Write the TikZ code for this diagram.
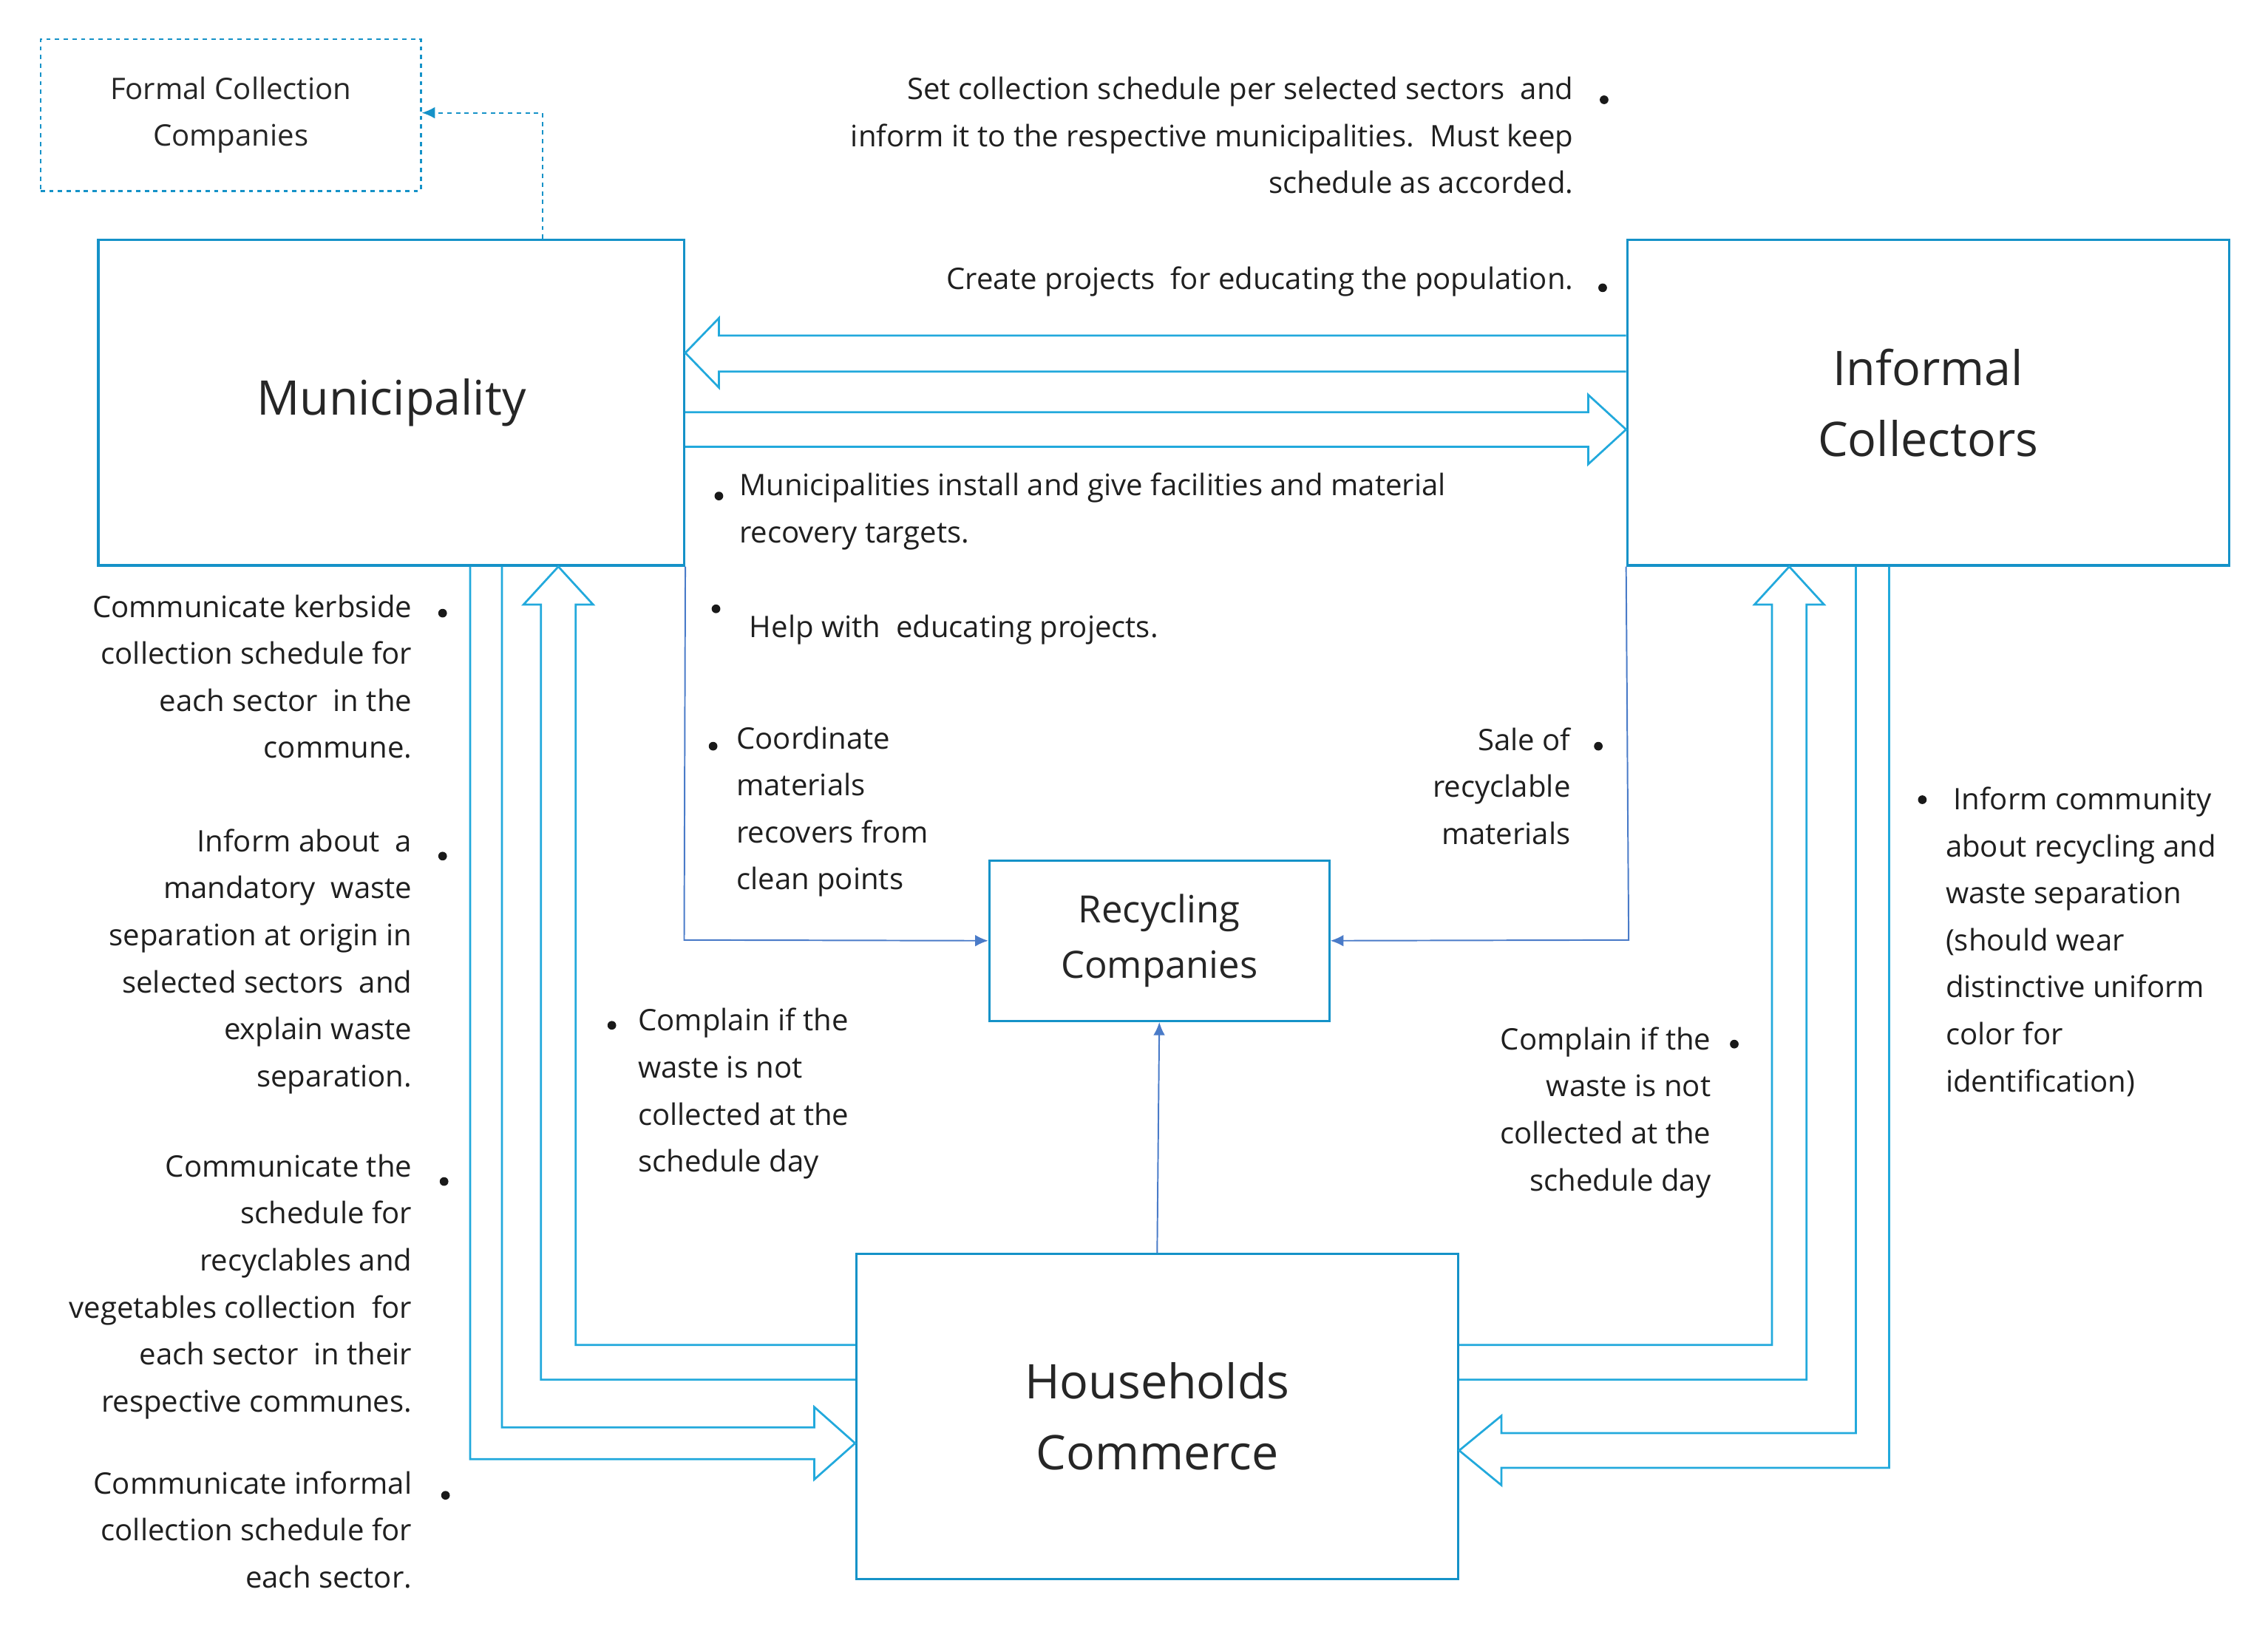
\documentclass[tikz,border=0pt]{standalone}
\usepackage{fontspec}
\setmainfont{Open Sans}
\usetikzlibrary{arrows.meta}
\definecolor{boxc}{HTML}{1592C8}
\definecolor{arrc}{HTML}{22A9DC}
\definecolor{thin}{HTML}{4A7BC8}
\begin{document}
\begin{tikzpicture}[x=1pt,y=-1pt,
  box/.style={draw=boxc,line width=1.6pt,inner sep=0pt,align=center,text=black!85},
  hol/.style={draw=arrc,line width=1.4pt,line join=miter},
  thn/.style={draw=thin,line width=1pt,-{Latex[length=9pt,width=8pt]}},
  txt/.style={font=\fontsize{20.5}{32.5}\selectfont,inner sep=0pt,text=black!88},
  bul/.style={circle,fill=black!90,inner sep=0pt,minimum size=6pt}]
\useasboundingbox (0,0) rectangle (1568,1124);
% boxes
\node[box,minimum width=405pt,minimum height=225pt,font=\fontsize{33}{46}\selectfont] (mun) at (270.5,278.5) {Municipality};
\node[box,minimum width=416pt,minimum height=225pt,font=\fontsize{33}{49}\selectfont] (inf) at (1333,278.5) {Informal\\Collectors};
\node[box,minimum width=235pt,minimum height=111pt,font=\fontsize{26}{38}\selectfont] (rec) at (801.5,650.5) {Recycling\\Companies};
\node[box,minimum width=416pt,minimum height=225pt,font=\fontsize{33}{49}\selectfont] (hh) at (800,979.5) {Households\\Commerce};
\node[box,dashed,line width=1.3pt,minimum width=263pt,minimum height=105pt,font=\fontsize{20.5}{32.5}\selectfont] (fcc) at (159.5,79.5) {Formal Collection\\Companies};
% dashed connector
\coordinate (dk) at (375,78);
\draw[boxc,dashed,line width=1pt,-{Latex[length=9pt,width=8pt]}] (mun.north -| 375,0) -- (dk) -- (fcc.east |- dk);
% hollow arrows top
\draw[hol] (inf.west |- 0,232) -- (497,232) -- (497,220) -- (mun.east |- 0,244) -- (497,268) -- (497,257) -- (inf.west |- 0,257);
\draw[hol] (mun.east |- 0,285) -- (1098,285) -- (1098,273) -- (inf.west |- 0,297) -- (1098,321) -- (1098,309) -- (mun.east |- 0,309);
% left: municipality -> households
\draw[hol] (mun.south -| 325,0) -- (325,1009) -- (563,1009) -- (563,1023) -- (hh.west |- 0,998) -- (563,973) -- (563,987) -- (347,987) -- (mun.south -| 347,0);
% left: households -> municipality
\draw[hol] (hh.west |- 0,954) -- (374,954) -- (374,418) -- (362,418) -- (mun.south -| 386,0) -- (410,418) -- (398,418) -- (398,930) -- (hh.west |- 0,930);
% right: households -> informal
\draw[hol] (hh.east |- 0,930) -- (1225,930) -- (1225,418) -- (1213,418) -- (inf.south -| 1237,0) -- (1261,418) -- (1249,418) -- (1249,954) -- (hh.east |- 0,954);
% right: informal -> households
\draw[hol] (inf.south -| 1306,0) -- (1306,1015) -- (1038,1015) -- (1038,1027) -- (hh.east |- 0,1003) -- (1038,979) -- (1038,991) -- (1283,991) -- (inf.south -| 1283,0);
% thin connectors
\coordinate (c1) at (473,650);
\coordinate (c2) at (1126,650);
\draw[thn] (mun.south east) -- (c1) -- (rec.west);
\draw[thn] (inf.south west) -- (c2) -- (rec.east);
\draw[thn] (hh.north) -- (rec.south);
% texts top right
\node[txt,anchor=north east,align=right] (t1) at (1088,53) {Set collection schedule per selected sectors\ \ and\\inform it to the respective municipalities.\ \ Must keep\\schedule as accorded.};
\node[bul] (b1) at (1109,69) {};
\node[txt,anchor=north east,align=right] (t2) at (1088,184) {Create projects\ \ for educating the population.};
\node[bul] (b2) at (1108,199) {};
% middle
\node[bul] (b3) at (497,343) {};
\node[txt,anchor=north west,align=left] (t3) at (511,327) {Municipalities install and give facilities and material\\recovery targets.};
\node[bul] (b4) at (495,421) {};
\node[txt,anchor=north west,align=left] (t4) at (518,425) {Help with\ \ educating projects.};
\node[bul] (b5) at (493,516) {};
\node[txt,anchor=north west,align=left] (t5) at (509,502) {Coordinate\\materials\\recovers from\\clean points};
\node[txt,anchor=north east,align=right] (t6) at (1086,503) {Sale of\\recyclable\\materials};
\node[bul] (b6) at (1105,516) {};
% left column
\node[txt,anchor=north east,align=right] (t7) at (285,411) {Communicate kerbside\\collection schedule for\\each sector\ \ in the\\commune.};
\node[bul] (b7) at (306,424) {};
\node[txt,anchor=north east,align=right] (t8) at (285,573) {Inform about\ \ a\\mandatory\ \ waste\\separation at origin in\\selected sectors\ \ and\\explain waste\\separation.};
\node[bul] (b8) at (306,592) {};
\node[txt,anchor=north east,align=right] (t9) at (285,798) {Communicate the\\schedule for\\recyclables and\\vegetables collection\ \ for\\each sector\ \ in their\\respective communes.};
\node[bul] (b9) at (307,817) {};
\node[txt,anchor=north east,align=right] (t10) at (285,1017) {Communicate informal\\collection schedule for\\each sector.};
\node[bul] (b10) at (308,1034) {};
% complains
\node[bul] (b11) at (423,709) {};
\node[txt,anchor=north west,align=left] (t11) at (441,697) {Complain if the\\waste is not\\collected at the\\schedule day};
\node[txt,anchor=north east,align=right] (t12) at (1183,710) {Complain if the\\waste is not\\collected at the\\schedule day};
\node[bul] (b12) at (1199,722) {};
% right column
\node[bul] (b13) at (1329,553) {};
\node[txt,anchor=north west,align=left] (t13) at (1345,544) {\ Inform community\\about recycling and\\waste separation\\(should wear\\distinctive uniform\\color for\\identification)};
\end{tikzpicture}
\end{document}
